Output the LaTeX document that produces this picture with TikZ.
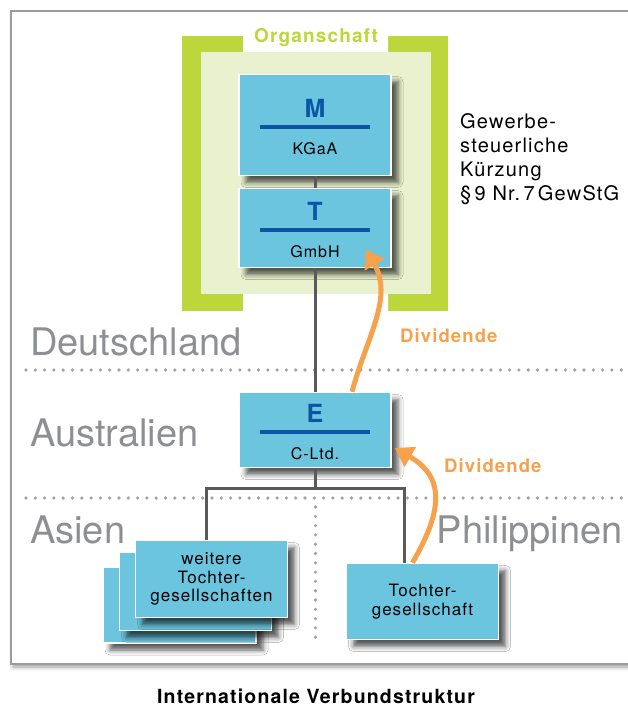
\documentclass[tikz,border=0pt]{standalone}
\usepackage{fontspec}
\setmainfont{TeX Gyre Heros}[LetterSpace=6]
\newfontfamily\landfont{TeX Gyre Heros}
\usetikzlibrary{arrows.meta,shadows.blur}

\definecolor{boxfill}{HTML}{6CC5DF}
\definecolor{firmblue}{HTML}{0A56A4}
\definecolor{organgreen}{HTML}{BDD63B}
\definecolor{organlight}{HTML}{E9F1CE}
\definecolor{divorange}{HTML}{F8A14C}
\definecolor{landgray}{HTML}{8E8F92}
\definecolor{linkgray}{HTML}{5A5A5C}
\definecolor{dotgray}{HTML}{A3A4A6}
\definecolor{framegray}{HTML}{9C9C9C}

\tikzset{
  firm/.style={draw=white, line width=1.5pt, fill=boxfill, minimum width=152pt, inner sep=0pt,
    blur shadow={shadow xshift=7pt, shadow yshift=-7pt, shadow blur radius=5pt, shadow opacity=65}},
  firmhead/.style={text=firmblue, font=\bfseries\fontsize{25}{25}\selectfont},
  firmform/.style={font=\fontsize{16}{16}\selectfont},
  daughter/.style={firm, align=center, font=\fontsize{17}{18.5}\selectfont},
  bar/.style={firmblue, line width=3.5pt},
  link/.style={linkgray, line width=3pt},
  landline/.style={dotgray, dash pattern=on 0pt off 9.3pt, line cap=round, line width=3.6pt},
  land/.style={text=landgray, font=\landfont\fontsize{38}{38}\selectfont, inner sep=0pt},
  dividend/.style={divorange, line width=5pt, -{Triangle[width=22pt,length=18pt]}},
  divlabel/.style={text=divorange, font=\bfseries\fontsize{18.5}{18.5}\selectfont, inner sep=0pt}
}

\begin{document}
\begin{tikzpicture}[x=1pt, y=-1pt]
  \useasboundingbox (0,0) rectangle (627,706);
  % frame
  \fill[white, blur shadow={shadow xshift=2pt, shadow yshift=-3pt, shadow blur radius=4pt, shadow opacity=40}]
    (11,11) rectangle (660,664);
  \draw[framegray, line width=1.5pt] (11,11) rectangle (660,664);

  % Organschaft
  \fill[organgreen] (182,36) rectangle (448,311);
  \fill[white] (243,35) rectangle (388,52) (243,294) rectangle (388,312);
  \fill[organlight] (201,52) rectangle (431,294);
  \node[text=organgreen, font=\bfseries\fontsize{19}{19}\selectfont, anchor=base] (organ) at (316,43) {Organschaft};

  % countries
  \draw[landline] (26,370) -- (627,370);
  \draw[landline] (26,498) -- (627,498);
  \draw[landline] (315.5,507) -- (315.5,645);
  \node[land, anchor=base west] (de) at (30,355) {Deutschland};
  \node[land, anchor=base west] (au) at (30,446) {Australien};
  \node[land, anchor=base west] (as) at (30,543) {Asien};
  \node[land, anchor=base east] (ph) at (623,543) {Philippinen};

  \node[anchor=north west, align=left, inner sep=0pt, font=\fontsize{20}{24}\selectfont] (gewst) at (460,113)
    {Gewerbe-\\steuerliche\\Kürzung\\§\,9 Nr.\,7\,GewStG};

  % companies
  \node[firm, minimum height=101pt] (M) at (315,125) {};
  \node[firm, minimum height=79pt] (T) at (315,228) {};
  \node[firm, minimum height=75pt] (E) at (315,430) {};
  \node[daughter, minimum width=153pt, minimum height=76pt] (w3) at (179.5,605) {};
  \node[daughter, minimum height=78pt] (w2) at (195.5,591.5) {};
  \node[daughter, minimum height=77pt] (w1) at (211.5,579) {weitere\\Tochter-\\gesellschaften};
  \node[daughter, minimum height=76pt] (tg) at (422.5,601.5) {Tochter-\\gesellschaft};

  \foreach \nm/\hd/\lf in {M/M/KGaA, T/T/GmbH, E/E/C-Ltd.} {
    \draw[bar] ([xshift=-55pt,yshift=-2pt]\nm.center) -- ([xshift=55pt,yshift=-2pt]\nm.center);
    \node[firmhead] (\nm-head) at ([yshift=17pt]\nm.center) {\hd};
    \node[firmform] (\nm-form) at ([yshift=-24pt]\nm.center) {\lf};
  }

  \draw[link] (M.south) -- (T.north);
  \draw[link] (T.south) -- (E.north);
  \draw[link] (E.south) -- ++(0,20) coordinate (fork);
  \draw[link] ([xshift=-5.5pt]w1.north) |- (fork) -| ([xshift=-18.5pt]tg.north);

  % dividends
  \draw[dividend] ([xshift=37pt]E.north) to[out=75, in=-60] ([xshift=-26pt,yshift=19pt]T.south east);
  \node[divlabel, anchor=base west] (div1) at (400,342) {Dividende};
  \draw[dividend] ([xshift=-10pt]tg.north) to[out=60, in=-30, looseness=1.3] ([xshift=3pt,yshift=-18pt]E.east);
  \node[divlabel, anchor=base west] (div2) at (444,472) {Dividende};

  \node[font=\bfseries\fontsize{19.5}{19.5}\selectfont, anchor=base] (caption) at (316,703) {Internationale Verbundstruktur};
\end{tikzpicture}
\end{document}
